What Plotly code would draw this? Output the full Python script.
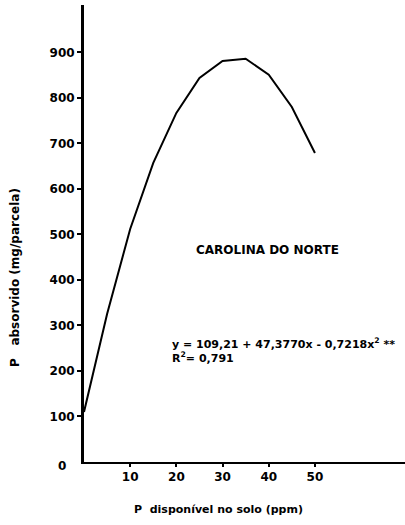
import plotly.graph_objects as go

# Data (fitted curve, every 5 ppm)
p_disponivel = [0, 5, 10, 15, 20, 25, 30, 35, 40, 45, 50]
p_absorvido = [110, 325, 512, 657, 767, 844, 881, 886, 851, 780, 679]

y_ticks = [100, 200, 300, 400, 500, 600, 700, 800, 900]
x_ticks = [10, 20, 30, 40, 50]

FONT = "DejaVu Sans"

fig = go.Figure()
fig.add_trace(go.Scatter(
    x=p_disponivel, y=p_absorvido, mode="lines",
    line=dict(color="black", width=2), hoverinfo="skip", showlegend=False,
))

fig.update_layout(
    width=405, height=525,
    margin=dict(l=84, r=0, t=5, b=63),
    paper_bgcolor="white", plot_bgcolor="white",
    font=dict(family=FONT, size=11, color="black", weight="bold"),
    xaxis=dict(
        range=[0, 69.5], tickvals=x_ticks, ticktext=[str(v) for v in x_ticks],
        showgrid=False, zeroline=False, showline=True, linecolor="black", linewidth=2,
        ticks="outside", ticklen=3, tickwidth=1.5, tickcolor="black",
        tickfont=dict(family=FONT, size=12, color="black", weight="bold"),
    ),
    yaxis=dict(
        range=[0, 1004], tickvals=y_ticks, ticktext=[str(v) for v in y_ticks],
        showgrid=False, zeroline=False, showline=True, linecolor="black", linewidth=3,
        ticks="outside", ticklen=4, tickwidth=1.5, tickcolor="black",
        tickfont=dict(family=FONT, size=12, color="black", weight="bold"),
    ),
)

annotations = [
    dict(text="0", xref="paper", yref="paper", x=-0.068, y=-0.008, showarrow=False,
         font=dict(size=12, weight="bold"), xanchor="center", yanchor="middle"),
    dict(text="P   absorvido (mg/parcela)", xref="paper", yref="paper",
         x=-0.215, y=0.405, textangle=-90, showarrow=False,
         font=dict(size=12, weight="bold"), xanchor="center", yanchor="middle"),
    dict(text="P  disponível no solo (ppm)", xref="paper", yref="paper",
         x=0.42, y=-0.105, showarrow=False,
         font=dict(size=11, weight="bold"), xanchor="center", yanchor="middle"),
    dict(text="CAROLINA DO NORTE", xref="paper", yref="paper",
         x=0.573, y=0.464, showarrow=False,
         font=dict(size=12, weight="bold"), xanchor="center", yanchor="middle"),
    dict(text="y = 109,21 + 47,3770x - 0,7218x<sup>2</sup> **<br>R<sup>2</sup>= 0,791",
         xref="paper", yref="paper", x=0.268, y=0.243, showarrow=False, align="left",
         font=dict(size=11, weight="bold"), xanchor="left", yanchor="middle"),
]
fig.update_layout(annotations=annotations)

fig.write_html("out.html")
